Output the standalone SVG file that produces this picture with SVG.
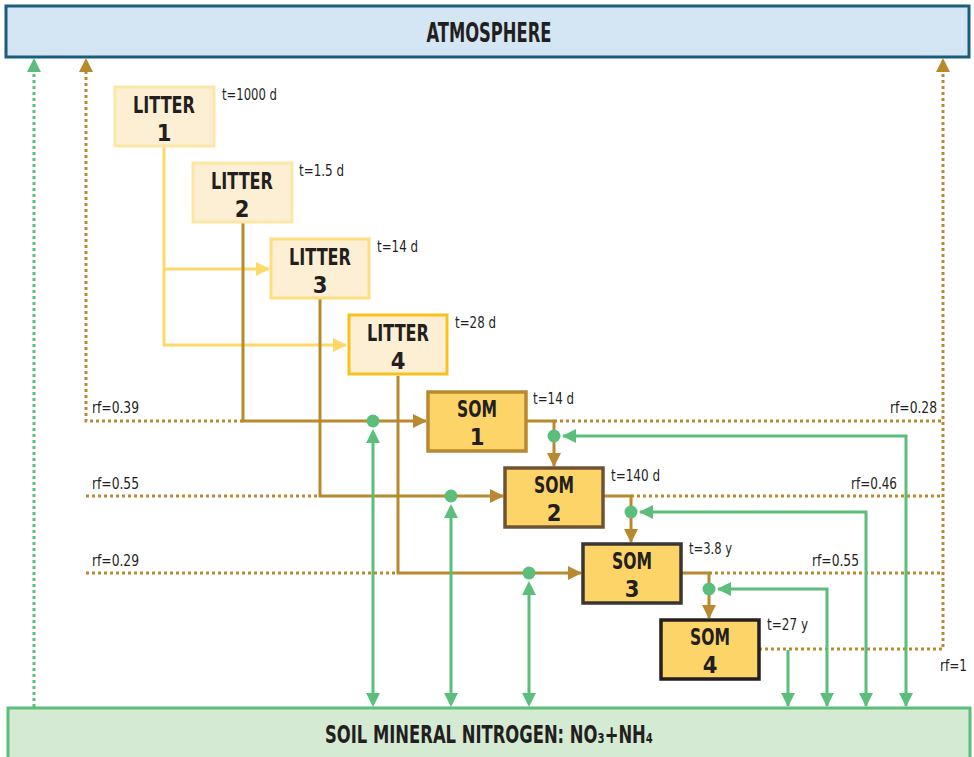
<svg xmlns="http://www.w3.org/2000/svg" width="974" height="757" viewBox="0 0 974 757">
<defs>
<style>
.bt{font-family:"Liberation Sans Narrow","DejaVu Sans Condensed","Liberation Sans",sans-serif;font-weight:bold;fill:#231f20;text-anchor:middle}
.nl{font-size:23.5px}
.lt{font-family:"Liberation Sans Narrow","DejaVu Sans Condensed","Liberation Sans",sans-serif;fill:#231f20;font-size:15px}
.rf{font-family:"Liberation Sans Narrow","DejaVu Sans Condensed","Liberation Sans",sans-serif;fill:#231f20;font-size:16px}
.br{fill:none;stroke:#b8892f;stroke-width:3}
.dot{fill:none;stroke:#b8892f;stroke-width:3;stroke-dasharray:3 3}
.gr{fill:none;stroke:#5cbe7b;stroke-width:3}
.gd{fill:none;stroke:#5cbe7b;stroke-width:3;stroke-dasharray:3 3}
.yl{fill:none;stroke:#fdd96a;stroke-width:3}
.litter{fill:#fdefd3}
.som{fill:#fdd468;stroke-width:3.5}
</style>
<marker id="ab" markerWidth="14" markerHeight="14" viewBox="0 0 14 14" refX="13" refY="7" orient="auto" markerUnits="userSpaceOnUse"><path d="M0,0 L14,7 L0,14 z" fill="#b8892f"/></marker>
<marker id="ay" markerWidth="14" markerHeight="14" viewBox="0 0 14 14" refX="13" refY="7" orient="auto" markerUnits="userSpaceOnUse"><path d="M0,0 L14,7 L0,14 z" fill="#fdd96a"/></marker>
</defs>
<rect width="974" height="757" fill="#ffffff"/>

<g id="atmosphere">
<rect x="6" y="6" width="963" height="51" fill="#d4e5f4" stroke="#1b5e7b" stroke-width="3"/>
<text class="bt" x="489" y="42" font-size="26" textLength="125" lengthAdjust="spacingAndGlyphs">ATMOSPHERE</text>
</g>

<g id="soil">
<rect x="8" y="708" width="962" height="60" fill="#d5ead3" stroke="#5cbe7b" stroke-width="3"/>
<text class="bt" x="325" y="743" font-size="24" style="text-anchor:start" textLength="328" lengthAdjust="spacingAndGlyphs">SOIL MINERAL NITROGEN: NO₃+NH₄</text>
</g>

<g id="connectors">
<line class="gd" x1="34" y1="707" x2="34" y2="72"/>
<path d="M27,72 L34,58 L41,72 z" fill="#5cbe7b"/>
<polyline class="dot" points="243,421 86,421 86,72"/>
<line class="dot" x1="86" y1="496" x2="320" y2="496"/>
<line class="dot" x1="86" y1="573" x2="398" y2="573"/>
<path d="M79,72 L86,58 L93,72 z" fill="#b8892f"/>
<line class="dot" x1="554" y1="421" x2="943" y2="421"/>
<line class="dot" x1="631" y1="496" x2="943" y2="496"/>
<line class="dot" x1="709" y1="573" x2="943" y2="573"/>
<polyline class="dot" points="759,649 943,649 943,72"/>
<path d="M936,72 L943,58 L950,72 z" fill="#b8892f"/>

<polyline class="yl" points="164,147 164,345 346,345" marker-end="url(#ay)"/>
<polyline class="yl" points="164,269 269,269" marker-end="url(#ay)"/>

<polyline class="br" points="243,223 243,421 426,421" marker-end="url(#ab)"/>
<polyline class="br" points="320,299 320,496 503,496" marker-end="url(#ab)"/>
<polyline class="br" points="398,376 398,573 581,573" marker-end="url(#ab)"/>

<polyline class="br" points="526,421 554,421 554,466" marker-end="url(#ab)"/>
<polyline class="br" points="604,496 631,496 631,542" marker-end="url(#ab)"/>
<polyline class="br" points="682,573 709,573 709,618" marker-end="url(#ab)"/>

<line class="gr" x1="373" y1="442" x2="373" y2="694"/>
<path d="M366,443 L373,429 L380,443 z" fill="#5cbe7b"/>
<path d="M366,693 L373,707 L380,693 z" fill="#5cbe7b"/>
<line class="gr" x1="451" y1="517" x2="451" y2="694"/>
<path d="M444,518 L451,504 L458,518 z" fill="#5cbe7b"/>
<path d="M444,693 L451,707 L458,693 z" fill="#5cbe7b"/>
<line class="gr" x1="529" y1="594" x2="529" y2="694"/>
<path d="M522,595 L529,581 L536,595 z" fill="#5cbe7b"/>
<path d="M522,693 L529,707 L536,693 z" fill="#5cbe7b"/>

<polyline class="gr" points="906,706 906,436 563,436"/>
<path d="M576,429 L562,436 L576,443 z" fill="#5cbe7b"/>
<polyline class="gr" points="866,706 866,512 640,512"/>
<path d="M653,505 L639,512 L653,519 z" fill="#5cbe7b"/>
<polyline class="gr" points="827,706 827,589 718,589"/>
<path d="M731,582 L717,589 L731,596 z" fill="#5cbe7b"/>
<line class="gr" x1="788" y1="650" x2="788" y2="706"/>
<path d="M781,693 L788,707 L795,693 z" fill="#5cbe7b"/>
<path d="M820,693 L827,707 L834,693 z" fill="#5cbe7b"/>
<path d="M859,693 L866,707 L873,693 z" fill="#5cbe7b"/>
<path d="M899,693 L906,707 L913,693 z" fill="#5cbe7b"/>

<circle cx="373" cy="421" r="6.5" fill="#5cbe7b"/>
<circle cx="451" cy="496" r="6.5" fill="#5cbe7b"/>
<circle cx="529" cy="573" r="6.5" fill="#5cbe7b"/>
<circle cx="554" cy="436" r="6.5" fill="#5cbe7b"/>
<circle cx="631" cy="512" r="6.5" fill="#5cbe7b"/>
<circle cx="709" cy="589" r="6.5" fill="#5cbe7b"/>

<text class="rf" x="92" y="413" textLength="47" lengthAdjust="spacingAndGlyphs">rf=0.39</text>
<text class="rf" x="92" y="489" textLength="47" lengthAdjust="spacingAndGlyphs">rf=0.55</text>
<text class="rf" x="92" y="566" textLength="47" lengthAdjust="spacingAndGlyphs">rf=0.29</text>
<text class="rf" x="890" y="413" textLength="47" lengthAdjust="spacingAndGlyphs">rf=0.28</text>
<text class="rf" x="851" y="489" textLength="46" lengthAdjust="spacingAndGlyphs">rf=0.46</text>
<text class="rf" x="812" y="566" textLength="47" lengthAdjust="spacingAndGlyphs">rf=0.55</text>
<text class="rf" x="940" y="671" textLength="27" lengthAdjust="spacingAndGlyphs">rf=1</text>
</g>

<g id="litter1">
<rect class="litter" x="115" y="87" width="99" height="59" stroke="#fde7a6" stroke-width="3"/>
<text class="bt nl" x="164" y="113" textLength="62" lengthAdjust="spacingAndGlyphs">LITTER</text>
<text class="bt nl" x="164" y="141">1</text>
<text class="lt" x="222" y="100" textLength="55" lengthAdjust="spacingAndGlyphs">t=1000 d</text>
</g>
<g id="litter2">
<rect class="litter" x="193" y="163" width="99" height="59" stroke="#fde7a6" stroke-width="3"/>
<text class="bt nl" x="242" y="189" textLength="62" lengthAdjust="spacingAndGlyphs">LITTER</text>
<text class="bt nl" x="242" y="217">2</text>
<text class="lt" x="299" y="176" textLength="45" lengthAdjust="spacingAndGlyphs">t=1.5 d</text>
</g>
<g id="litter3">
<rect class="litter" x="271" y="239" width="98" height="59" stroke="#fddd7c" stroke-width="3"/>
<text class="bt nl" x="320" y="265" textLength="62" lengthAdjust="spacingAndGlyphs">LITTER</text>
<text class="bt nl" x="320" y="293">3</text>
<text class="lt" x="377" y="252" textLength="41" lengthAdjust="spacingAndGlyphs">t=14 d</text>
</g>
<g id="litter4">
<rect class="litter" x="349" y="315" width="98" height="59" stroke="#f8c21d" stroke-width="3"/>
<text class="bt nl" x="398" y="341" textLength="62" lengthAdjust="spacingAndGlyphs">LITTER</text>
<text class="bt nl" x="398" y="369">4</text>
<text class="lt" x="455" y="328" textLength="41" lengthAdjust="spacingAndGlyphs">t=28 d</text>
</g>

<g id="som1">
<rect class="som" x="428" y="392" width="98" height="59" stroke="#b8892f"/>
<text class="bt nl" x="477" y="417" textLength="40" lengthAdjust="spacingAndGlyphs">SOM</text>
<text class="bt nl" x="477" y="445">1</text>
<text class="lt" x="533" y="404" textLength="41" lengthAdjust="spacingAndGlyphs">t=14 d</text>
</g>
<g id="som2">
<rect class="som" x="505" y="468" width="98" height="59" stroke="#6e5434"/>
<text class="bt nl" x="554" y="493" textLength="40" lengthAdjust="spacingAndGlyphs">SOM</text>
<text class="bt nl" x="554" y="521">2</text>
<text class="lt" x="611" y="481" textLength="49" lengthAdjust="spacingAndGlyphs">t=140 d</text>
</g>
<g id="som3">
<rect class="som" x="583" y="544" width="98" height="59" stroke="#3a3530"/>
<text class="bt nl" x="632" y="569" textLength="40" lengthAdjust="spacingAndGlyphs">SOM</text>
<text class="bt nl" x="632" y="597">3</text>
<text class="lt" x="689" y="554" textLength="43" lengthAdjust="spacingAndGlyphs">t=3.8 y</text>
</g>
<g id="som4">
<rect class="som" x="661" y="620" width="98" height="59" stroke="#231f20"/>
<text class="bt nl" x="710" y="645" textLength="40" lengthAdjust="spacingAndGlyphs">SOM</text>
<text class="bt nl" x="710" y="673">4</text>
<text class="lt" x="767" y="630" textLength="41" lengthAdjust="spacingAndGlyphs">t=27 y</text>
</g>
</svg>
